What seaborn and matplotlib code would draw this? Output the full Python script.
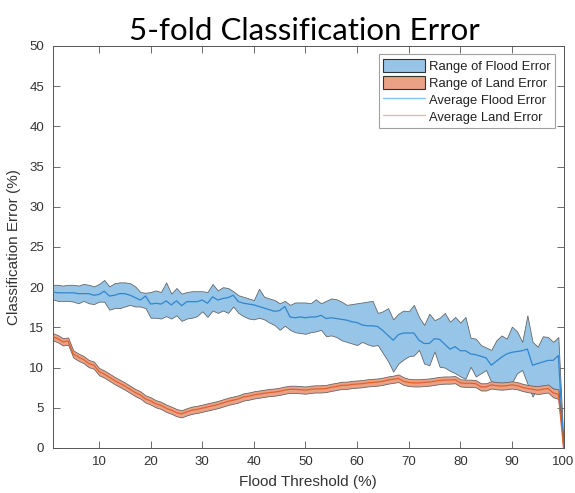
import numpy as np
import pandas as pd
import seaborn as sns
import matplotlib
matplotlib.use("Agg")
import matplotlib.pyplot as plt
from matplotlib.patches import Patch
from matplotlib.lines import Line2D

# Flood threshold (%) used for each run
threshold = list(range(1, 101))

# Flood class error over the 5 folds: max, min and mean (%)
flood_max = [
    20.3, 20.3, 20.2, 20.3, 20.3, 20.2, 20.4, 20.3, 20.1, 20.4,
    20.9, 20.1, 20.5, 20.6, 20.6, 20.5, 20.1, 19.4, 19.3, 19.4,
    19.6, 19.4, 20.6, 19.2, 19.9, 19.2, 19.4, 19.5, 19.5, 19.5,
    19.4, 20.4, 19.6, 20.0, 19.9, 19.5, 19.0, 18.8, 18.6, 18.4,
    19.8, 18.8, 18.6, 18.4, 18.0, 18.3, 17.8, 18.1, 18.1, 18.1,
    18.0, 18.5, 18.0, 18.3, 18.6, 18.5, 18.2, 17.8, 17.9, 18.0,
    18.1, 18.2, 18.3, 16.8, 17.0, 17.4, 16.0, 16.7, 17.1, 17.0,
    17.8, 16.3, 15.3, 16.7, 15.9, 16.2, 16.8, 15.7, 16.3, 15.6,
    16.3, 13.7, 13.6, 12.8, 12.5, 12.2, 13.4, 14.0, 13.6, 15.1,
    14.5, 13.2, 16.5, 13.2, 12.6, 13.9, 13.8, 13.2, 13.8, 0.5,
]
flood_min = [
    18.5, 18.3, 18.3, 18.3, 18.2, 18.0, 18.3, 18.0, 17.9, 18.2,
    18.2, 17.2, 17.4, 17.4, 17.6, 17.8, 17.6, 17.6, 17.4, 16.2,
    16.2, 16.1, 16.4, 16.1, 16.5, 15.8, 16.1, 16.2, 16.4, 17.0,
    16.3, 17.1, 16.8, 17.1, 16.8, 17.6, 16.8, 16.4, 16.1, 16.0,
    16.2, 16.0, 15.6, 15.3, 14.7, 15.2, 14.7, 14.4, 14.3, 14.2,
    14.4, 14.5, 14.7, 13.9, 14.0, 13.8, 13.4, 13.2, 13.0, 12.8,
    13.2, 12.9, 12.7, 12.8, 11.8, 10.8, 9.5, 10.5, 11.0, 11.4,
    11.5, 12.2, 10.5, 10.3, 12.0, 10.1, 10.0, 9.6, 9.3, 8.9,
    8.6, 10.1, 8.9, 9.3, 9.7, 8.2, 8.1, 8.1, 8.1, 8.1,
    9.3, 9.7, 8.0, 6.4, 7.5, 7.5, 7.5, 7.4, 7.2, 0.2,
]
flood_avg = [
    19.4, 19.3, 19.3, 19.3, 19.3, 19.2, 19.2, 19.2, 19.0, 19.1,
    19.5, 18.9, 19.0, 19.2, 19.2, 19.0, 18.7, 18.4, 18.9, 17.9,
    18.0, 17.9, 18.3, 17.8, 18.3, 17.7, 18.2, 18.2, 18.2, 18.4,
    18.0, 18.8, 18.4, 18.6, 18.7, 19.0, 18.2, 18.0, 17.9, 17.8,
    17.6, 17.4, 17.2, 17.0, 17.1, 17.6, 16.3, 16.2, 16.3, 16.2,
    16.3, 16.3, 16.5, 16.1, 16.2, 16.1, 16.0, 15.9, 15.7, 15.6,
    15.3, 15.2, 15.2, 15.1, 14.6, 14.0, 13.4, 14.1, 14.3, 14.3,
    14.3, 13.4, 13.0, 13.0, 13.6, 13.5, 12.9, 12.3, 12.6, 12.1,
    12.1, 11.7, 11.6, 11.4, 11.2, 10.3, 10.8, 11.3, 11.7, 11.9,
    12.0, 12.1, 12.3, 10.3, 10.5, 10.7, 10.9, 10.9, 11.5, 0.4,
]

# Land class error over the 5 folds: max, min and mean (%)
land_max = [
    14.30, 14.05, 13.65, 13.75, 12.15, 11.75, 11.45, 10.95, 10.75, 9.95,
    9.65, 9.25, 8.85, 8.50, 8.15, 7.75, 7.35, 7.05, 6.55, 6.30,
    5.95, 5.75, 5.40, 5.15, 4.85, 4.70, 4.95, 5.15, 5.25, 5.40,
    5.55, 5.70, 5.85, 6.05, 6.25, 6.40, 6.55, 6.80, 6.90, 7.05,
    7.15, 7.25, 7.35, 7.40, 7.50, 7.65, 7.75, 7.75, 7.70, 7.65,
    7.75, 7.80, 7.80, 7.85, 8.00, 8.10, 8.25, 8.25, 8.35, 8.40,
    8.45, 8.55, 8.60, 8.65, 8.75, 8.90, 9.00, 9.15, 8.80, 8.60,
    8.55, 8.55, 8.60, 8.65, 8.75, 8.85, 8.90, 8.90, 8.95, 8.55,
    8.50, 8.50, 8.45, 8.05, 8.05, 8.30, 8.20, 8.15, 8.20, 8.30,
    8.20, 8.00, 7.85, 7.75, 7.70, 7.80, 7.90, 7.40, 7.30, 0.20,
]
land_min = [
    13.40, 13.15, 12.75, 12.85, 11.25, 10.85, 10.55, 10.05, 9.85, 9.05,
    8.75, 8.35, 7.95, 7.60, 7.25, 6.85, 6.45, 6.15, 5.65, 5.40,
    5.05, 4.85, 4.50, 4.25, 3.95, 3.80, 4.05, 4.25, 4.35, 4.50,
    4.65, 4.80, 4.95, 5.15, 5.35, 5.50, 5.65, 5.90, 6.00, 6.15,
    6.25, 6.35, 6.45, 6.50, 6.60, 6.75, 6.85, 6.85, 6.80, 6.75,
    6.85, 6.90, 6.90, 6.95, 7.10, 7.20, 7.35, 7.35, 7.45, 7.50,
    7.55, 7.65, 7.70, 7.75, 7.85, 8.00, 8.10, 8.20, 7.85, 7.70,
    7.65, 7.65, 7.70, 7.75, 7.85, 7.95, 8.00, 8.00, 8.05, 7.65,
    7.60, 7.60, 7.55, 7.15, 7.15, 7.40, 7.30, 7.25, 7.30, 7.40,
    7.30, 7.10, 6.95, 6.85, 6.70, 6.80, 6.90, 6.30, 6.10, 0.00,
]
land_avg = [
    13.85, 13.60, 13.20, 13.30, 11.70, 11.30, 11.00, 10.50, 10.30, 9.50,
    9.20, 8.80, 8.40, 8.05, 7.70, 7.30, 6.90, 6.60, 6.10, 5.85,
    5.50, 5.30, 4.95, 4.70, 4.40, 4.25, 4.50, 4.70, 4.80, 4.95,
    5.10, 5.25, 5.40, 5.60, 5.80, 5.95, 6.10, 6.35, 6.45, 6.60,
    6.70, 6.80, 6.90, 6.95, 7.05, 7.20, 7.30, 7.30, 7.25, 7.20,
    7.30, 7.35, 7.35, 7.40, 7.55, 7.65, 7.80, 7.80, 7.90, 7.95,
    8.00, 8.10, 8.15, 8.20, 8.30, 8.45, 8.55, 8.65, 8.30, 8.15,
    8.10, 8.10, 8.15, 8.20, 8.30, 8.40, 8.45, 8.45, 8.50, 8.10,
    8.05, 8.05, 8.00, 7.60, 7.60, 7.85, 7.75, 7.70, 7.75, 7.85,
    7.75, 7.55, 7.40, 7.30, 7.20, 7.30, 7.40, 6.85, 6.70, 0.00,
]

legend_labels = ["Range of Flood Error", "Range of Land Error",
                 "Average Flood Error", "Average Land Error"]

df = pd.DataFrame({
    "threshold": threshold,
    "flood_max": flood_max, "flood_min": flood_min, "flood_avg": flood_avg,
    "land_max": land_max, "land_min": land_min, "land_avg": land_avg,
})

sns.set_style("white")
plt.rcParams["font.family"] = ["Liberation Sans", "DejaVu Sans"]

FLOOD_FILL = "#97c5e7"
LAND_FILL = "#eaa185"
EDGE = "#5e5e5e"
FLOOD_LINE = "#2f86cf"
LAND_LINE = "#e0622f"
TEXT = "#333333"

fig = plt.figure(figsize=(5.75, 4.93), dpi=100)
ax = fig.add_axes([0.0915, 0.0913, 0.8885, 0.8154])

ax.fill_between(df["threshold"], df["flood_min"], df["flood_max"],
                facecolor=FLOOD_FILL, edgecolor=EDGE, linewidth=0.55, zorder=1)
ax.fill_between(df["threshold"], df["land_min"], df["land_max"],
                facecolor=LAND_FILL, edgecolor=EDGE, linewidth=0.55, zorder=2)
sns.lineplot(data=df, x="threshold", y="flood_avg", ax=ax,
             color=FLOOD_LINE, linewidth=0.9, zorder=3)
sns.lineplot(data=df, x="threshold", y="land_avg", ax=ax,
             color=LAND_LINE, linewidth=0.9, zorder=4)

ax.set_xlim(1, 100)
ax.set_ylim(0, 50)
ax.set_xticks(range(10, 101, 10))
ax.set_yticks(range(0, 51, 5))
ax.tick_params(direction="in", length=5, width=0.6, colors="#555555",
               labelcolor=TEXT, labelsize=9.5, top=True, right=True,
               bottom=True, left=True, pad=6)
for side in ax.spines.values():
    side.set_color("#555555")
    side.set_linewidth(0.7)

ax.set_xlabel("Flood Threshold (%)", fontsize=11, color=TEXT, labelpad=5)
ax.set_ylabel("Classification Error (%)", fontsize=11, color=TEXT, labelpad=6)
fig.text(0.529, 0.919, "5-fold Classification Error", fontsize=22.5,
         family=["Lato", "DejaVu Sans"], ha="center", va="baseline",
         color="black")

handles = [
    Patch(facecolor=FLOOD_FILL, edgecolor="#333333", linewidth=0.8),
    Patch(facecolor=LAND_FILL, edgecolor="#333333", linewidth=0.8),
    Line2D([], [], color="#8cc0e8", linewidth=1.0),
    Line2D([], [], color="#f0b898", linewidth=1.0),
]
leg = ax.legend(handles, legend_labels, loc="upper right", fontsize=9.4,
                frameon=True, fancybox=False, edgecolor="#8a8a8a",
                borderaxespad=0.65, handlelength=3.2, handleheight=1.1,
                handletextpad=0.3, labelspacing=0.25, borderpad=0.35,
                labelcolor="#222222")
leg.get_frame().set_linewidth(0.8)

fig.savefig("out.png", dpi=100)
